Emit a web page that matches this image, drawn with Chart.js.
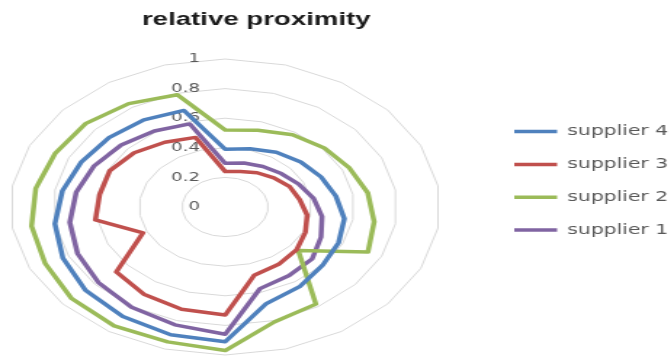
<!DOCTYPE html>
<html lang="en">
<head>
    <meta charset="UTF-8">
    <title>relative proximity</title>
    <style>
        body {
            margin: 0;
            background: #fff;
            overflow: hidden;
            width: 672px;
            height: 357px;
        }

        /* the original picture is stretched sideways, so the whole chart is too */
        #wrap {
            position: absolute;
            left: 0;
            top: 0;
            width: 463px;
            height: 357px;
            transform: scaleX(1.4527);
            transform-origin: 0 0;
        }

        #myChart {
            position: absolute;
            left: -24px;
            top: 0;
        }
    </style>
</head>
<body>

<div id="wrap">
    <canvas id="myChart" width="490" height="357"></canvas>
</div>

<script src="https://cdn.jsdelivr.net/npm/chart.js"></script>
<script>
    // 22 spokes, first one at the top, going clockwise
    const categories = ['1', '2', '3', '4', '5', '6', '7', '8', '9', '10', '11',
                        '12', '13', '14', '15', '16', '17', '18', '19', '20', '21', '22'];

    const tickValues = [0, 0.2, 0.4, 0.6, 0.8, 1];
    const tickLabels = ['0', '0.2', '0.4', '0.6', '0.8', '1'];

    const chartTitle = 'relative proximity';
    const seriesNames = ['supplier 4', 'supplier 3', 'supplier 2', 'supplier 1'];

    const supplier4 = [0.39, 0.41, 0.44, 0.465, 0.49, 0.52, 0.56, 0.58, 0.60, 0.64, 0.68,
                       0.91, 0.90, 0.88, 0.86, 0.83, 0.80, 0.765, 0.735, 0.715, 0.70, 0.68];
    const supplier3 = [0.24, 0.25, 0.275, 0.30, 0.33, 0.35, 0.385, 0.41, 0.44, 0.46, 0.48,
                       0.73, 0.72, 0.70, 0.67, 0.42, 0.61, 0.59, 0.59, 0.56, 0.52, 0.49];
    const supplier2 = [0.52, 0.54, 0.58, 0.61, 0.635, 0.67, 0.70, 0.73, 0.45, 0.78, 0.81,
                       0.97, 0.95, 0.955, 0.945, 0.92, 0.91, 0.89, 0.87, 0.86, 0.83, 0.79];
    const supplier1 = [0.295, 0.31, 0.325, 0.345, 0.375, 0.415, 0.455, 0.49, 0.535, 0.55, 0.575,
                       0.86, 0.83, 0.805, 0.78, 0.755, 0.73, 0.70, 0.67, 0.64, 0.61, 0.585];

    const colors = ['#4F81BD', '#C0504D', '#9BBB59', '#8064A2'];
    const seriesData = [supplier4, supplier3, supplier2, supplier1];

    // Excel puts the tick labels left of the vertical axis ("0" included)
    // and centres the title a bit right of the plot, so both are drawn here
    const excelText = {
        id: 'excelText',
        beforeDatasetsDraw(chart) {
            const r = chart.scales.r;
            const ctx = chart.ctx;
            ctx.save();
            ctx.font = '12.5px "DejaVu Sans"';
            ctx.fillStyle = '#595959';
            ctx.textAlign = 'right';
            ctx.textBaseline = 'middle';
            tickValues.forEach((v, i) => {
                ctx.fillText(tickLabels[i], r.xCenter - 17.4, r.yCenter - r.getDistanceFromCenterForValue(v));
            });
            ctx.restore();
        },
        afterDraw(chart) {
            const r = chart.scales.r;
            const ctx = chart.ctx;
            ctx.save();
            ctx.font = 'bold 19px "Liberation Sans"';
            ctx.fillStyle = '#1a1a1a';
            ctx.textAlign = 'center';
            ctx.textBaseline = 'middle';
            ctx.fillText(chartTitle, r.xCenter + 21.4, 20);
            ctx.restore();
        }
    };

    const ctx = document.getElementById('myChart').getContext('2d');
    const myChart = new Chart(ctx, {
        type: 'radar',
        data: {
            labels: categories,
            datasets: seriesNames.map((name, i) => ({
                label: name,
                data: seriesData[i],
                borderColor: colors[i],
                backgroundColor: colors[i],
                borderWidth: 3.5,
                borderJoinStyle: 'round',
                pointRadius: 0,
                pointHoverRadius: 0,
                fill: false
            }))
        },
        options: {
            responsive: false,
            animation: false,
            layout: {
                padding: { left: 0, right: 0.8, top: 59, bottom: 2 }
            },
            elements: {
                line: { tension: 0 }
            },
            scales: {
                r: {
                    min: 0,
                    max: 1,
                    afterBuildTicks: (scale) => {
                        scale.ticks = tickValues.map(v => ({ value: v }));
                    },
                    ticks: { display: false },
                    grid: { color: '#d9d9d9', lineWidth: 1, circular: false },
                    angleLines: { display: false },
                    pointLabels: { display: false }
                }
            },
            plugins: {
                title: { display: false },
                legend: {
                    position: 'right',
                    align: 'start',
                    maxWidth: 130,
                    // empty title only pushes the items down to where Excel has them
                    title: { display: true, text: '', padding: 0, font: { size: 39 } },
                    labels: {
                        usePointStyle: true,
                        pointStyle: 'line',
                        pointStyleWidth: 29.5,
                        padding: 18.8,
                        color: '#595959',
                        font: { family: 'DejaVu Sans', size: 14 }
                    }
                },
                tooltip: { enabled: false }
            }
        },
        plugins: [excelText]
    });
</script>

</body>
</html>
